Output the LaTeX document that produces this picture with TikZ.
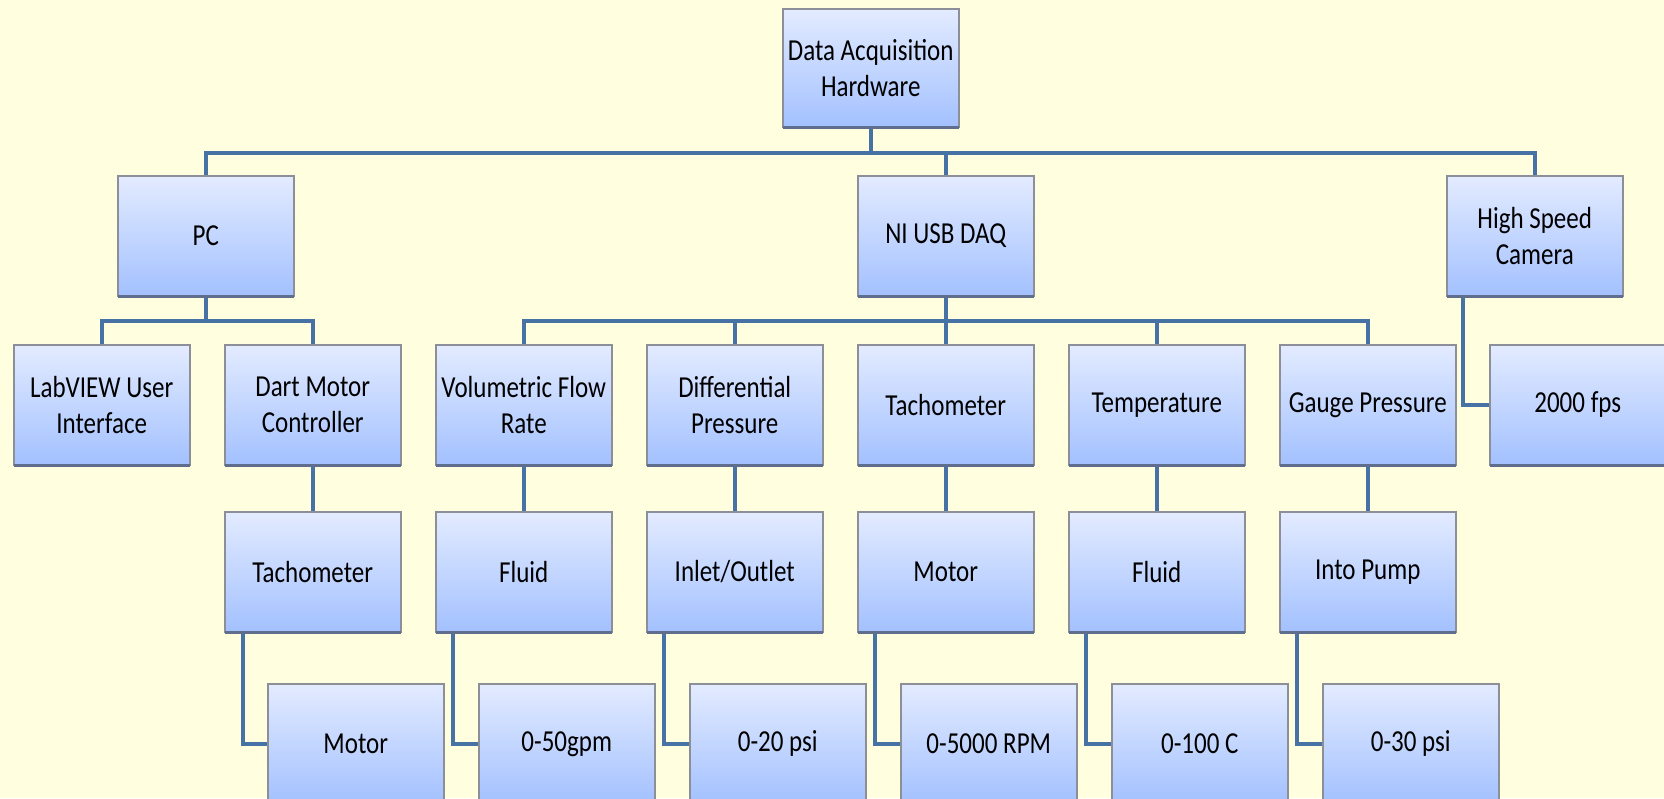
\documentclass[tikz,border=0pt]{standalone}
\usepackage{fontspec}
\setmainfont[FakeStretch=0.82]{Carlito}
\usetikzlibrary{backgrounds}
\definecolor{pagebg}{RGB}{255,255,224}
\definecolor{wire}{RGB}{70,114,166}
\definecolor{boxtop}{RGB}{227,235,255}
\definecolor{boxbot}{RGB}{163,193,255}
\definecolor{boxrim}{RGB}{140,142,152}
\definecolor{boxshade}{RGB}{96,110,142}
\begin{document}
\begin{tikzpicture}[x=1pt,y=1pt,
  box/.style={rectangle, anchor=north west, text width=170pt, minimum height=120pt,
    top color=boxtop, bottom color=boxbot, draw=boxrim, line width=1.5pt,
    align=flush center, inner sep=3pt, text=black,
    font=\fontsize{30.5pt}{36pt}\selectfont},
  wireline/.style={draw=wire, line width=4.5pt, line join=miter},
  rimshade/.style={draw=boxshade, line width=3pt}]
\useasboundingbox (0,0) rectangle (1664,-798);

% top level
\node[box, minimum height=118pt] (daq) at (782,-8) {Data Acquisition\\Hardware};

% second level
\node[box] (pc)  at (117,-175)  {PC};
\node[box] (ni)  at (857,-175)  {NI USB DAQ};
\node[box] (hsc) at (1446,-175) {High Speed\\Camera};

% third level
\node[box] (lab)  at (13,-344)   {LabVIEW User\\Interface};
\node[box] (dart) at (224,-344)  {Dart Motor\\Controller};
\node[box] (vol)  at (435,-344)  {Volumetric Flow\\Rate};
\node[box] (dif)  at (646,-344)  {Differential\\Pressure};
\node[box] (tac)  at (857,-344)  {Tachometer};
\node[box] (tem)  at (1068,-344) {Temperature};
\node[box] (gau)  at (1279,-344) {Gauge Pressure};
\node[box] (fps)  at (1489,-344) {2000 fps};

% fourth level
\node[box] (dtac) at (224,-511)  {Tachometer};
\node[box] (vfl)  at (435,-511)  {Fluid};
\node[box] (dio)  at (646,-511)  {Inlet/Outlet};
\node[box] (tmo)  at (857,-511)  {Motor};
\node[box] (tfl)  at (1068,-511) {Fluid};
\node[box] (gip)  at (1279,-511) {Into Pump};

% ranges
\node[box] (dmo)  at (267,-683)  {Motor};
\node[box] (vrg)  at (478,-683)  {0-50gpm};
\node[box] (drg)  at (689,-683)  {0-20 psi};
\node[box] (trg)  at (900,-683)  {0-5000 RPM};
\node[box] (mrg)  at (1111,-683) {0-100 C};
\node[box] (grg)  at (1322,-683) {0-30 psi};

% darker lower rim of the boxes
\foreach \n in {daq,pc,ni,hsc,lab,dart,vol,dif,tac,tem,gau,fps,dtac,vfl,dio,tmo,tfl,gip}
  \draw[rimshade] ([xshift=0.75pt]\n.south west) -- ([xshift=-0.75pt]\n.south east);

\begin{scope}[on background layer]
  \fill[pagebg] (0,0) rectangle (1664,-798);
  \coordinate (busA) at (0,-153);
  \coordinate (busB) at (0,-321);

  % hardware bus
  \draw[wireline] (daq.south) -- (daq.south |- busA);
  \draw[wireline] (pc.north) -- (pc.north |- busA) -- (hsc.north |- busA) -- (hsc.north);
  \draw[wireline] (ni.north) -- (ni.north |- busA);

  % PC branch
  \draw[wireline] (pc.south) -- (pc.south |- busB);
  \draw[wireline] (lab.north) -- (lab.north |- busB) -- (dart.north |- busB) -- (dart.north);
  \draw[wireline] (dart.south) -- (dtac.north);
  \draw[wireline] ([xshift=19pt]dtac.south west) |- (dmo.west);

  % DAQ branch
  \draw[wireline] (ni.south) -- (ni.south |- busB);
  \draw[wireline] (vol.north) -- (vol.north |- busB) -- (gau.north |- busB) -- (gau.north);
  \foreach \s in {dif,tac,tem}
    \draw[wireline] (\s.north) -- (\s.north |- busB);
  \draw[wireline] (vol.south) -- (vfl.north);
  \draw[wireline] (dif.south) -- (dio.north);
  \draw[wireline] (tac.south) -- (tmo.north);
  \draw[wireline] (tem.south) -- (tfl.north);
  \draw[wireline] (gau.south) -- (gip.north);
  \draw[wireline] ([xshift=18pt]vfl.south west) |- (vrg.west);
  \draw[wireline] ([xshift=18pt]dio.south west) |- (drg.west);
  \draw[wireline] ([xshift=18pt]tmo.south west) |- (trg.west);
  \draw[wireline] ([xshift=18pt]tfl.south west) |- (mrg.west);
  \draw[wireline] ([xshift=18pt]gip.south west) |- (grg.west);

  % camera branch
  \draw[wireline] ([xshift=17pt]hsc.south west) |- (fps.west);
\end{scope}
\end{tikzpicture}
\end{document}
